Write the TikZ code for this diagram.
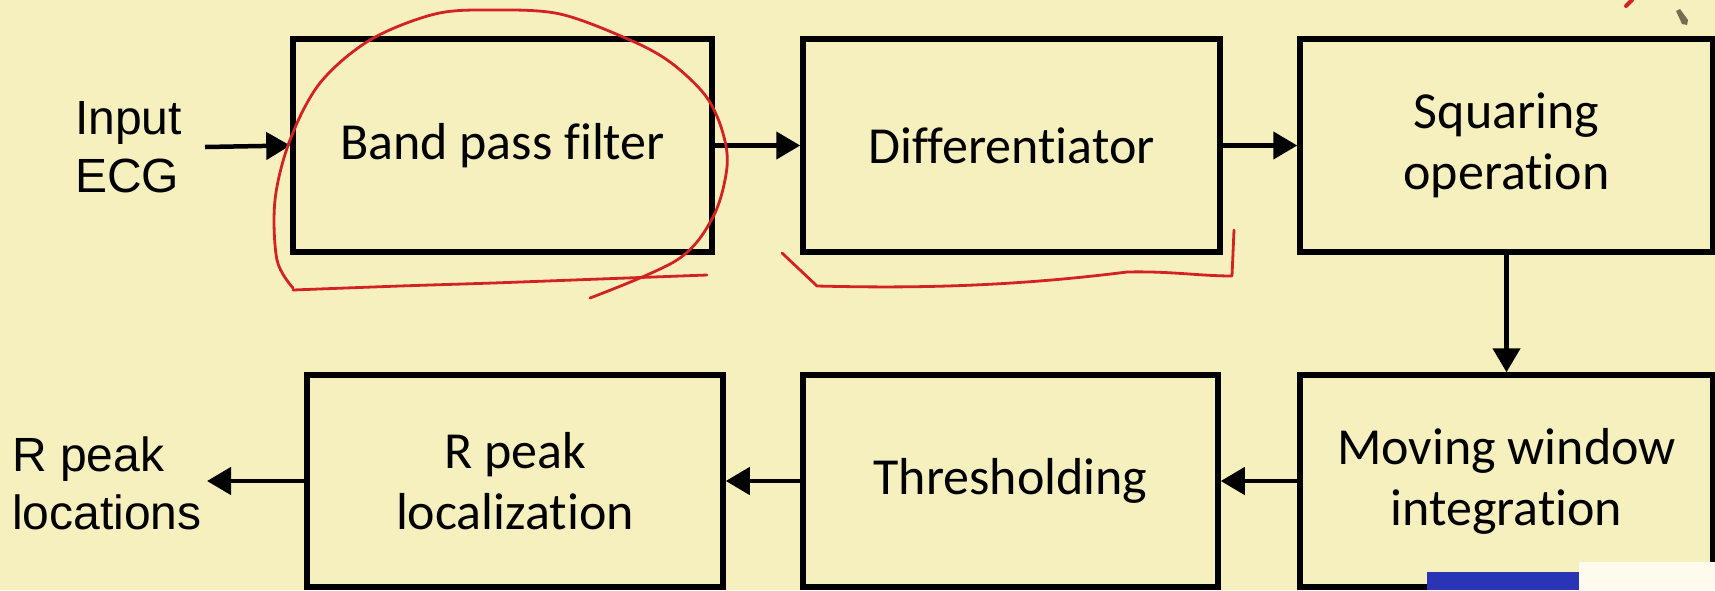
\documentclass[tikz,border=0pt]{standalone}
\usepackage{fontspec}
\setmainfont{Carlito}[Ligatures=CommonOff]
\newfontfamily\arialf{Liberation Sans}
\usetikzlibrary{arrows.meta}
\definecolor{bg}{HTML}{F5F0BE}
\definecolor{redink}{HTML}{D42222}
\definecolor{slideblue}{HTML}{2A35B5}
\definecolor{cream}{HTML}{FFF9EE}
\definecolor{cursor}{HTML}{7A6A50}
\begin{document}
\begin{tikzpicture}[x=1pt,y=-1pt,
  blk/.style={draw=black, line width=5.5pt, minimum height=213pt, align=center,
    font=\fontsize{52}{61}\selectfont, inner sep=0pt},
  conn/.style={line width=4.5pt, -{Triangle[length=24pt,width=27pt]}},
  lbl/.style={font=\arialf\fontsize{48}{58}\selectfont, align=left, inner sep=0pt},
  ink/.style={draw=redink, line width=2.8pt, line cap=round, line join=round}]
\fill[bg] (0,0) rectangle (1715,590);
\useasboundingbox (0,0) rectangle (1715,590);

% top row
\node[blk, minimum width=419pt] (bpf) at (502.5,145.5) {Band pass filter};
\node[blk, minimum width=417pt] (diff) at (1011.5,145.5) {Differentiator};
\node[blk, minimum width=413pt] (sq) at (1506.5,145.5) {\raisebox{0pt}[\height][\depth]{Squaring}\\operation};
% bottom row
\node[blk, minimum width=416pt, minimum height=212pt] (rpl) at (515,481) {R peak\\localization};
\node[blk, minimum width=415pt, minimum height=212pt] (thr) at (1010.5,481) {Thresholding};
\node[blk, minimum width=413pt, minimum height=212pt] (mwi) at (1506.5,481) {Moving window\\integration};

% labels
\node[lbl, anchor=west] (in) at (75,147) {Input\\ECG};
\node[lbl, anchor=west] (out) at (12,483) {R peak\\locations};
\coordinate (inS) at (205,147);
\coordinate (outE) at (207,481);

% connectors
\draw[conn] (inS) -- (bpf.west);
\draw[conn] (bpf) -- (diff);
\draw[conn] (diff) -- (sq);
\draw[conn] (sq) -- (mwi);
\draw[conn] (mwi) -- (thr);
\draw[conn] (thr) -- (rpl);
\draw[conn] (rpl.west) -- (outE);

% red hand annotations
\draw[ink] plot[smooth, tension=0.55] coordinates {(590,298) (677,260) (713,217) (727,167) (722,130) (705,95) (670,62) (630,40) (560,14) (493,10) (435,14) (370,40) (320,83) (290,140) (275,200) (277,260) (293,288)};
\draw[ink] plot[smooth, tension=0.5] coordinates {(293,290) (400,286) (493,283) (600,279) (707,275)};
\draw[ink] (782,253) -- (817,286) .. controls (900,288) and (1000,288) .. (1127,272) .. controls (1170,271) and (1200,276) .. (1232,276) -- (1234,230);
\draw[redink, line width=4pt, line cap=round] (1626,6) -- (1632,0);
\fill[cursor] (1676,11) -- (1680,9) -- (1688,20) -- (1687,25) -- (1682,24) -- cycle;

% overlays at bottom right
\fill[slideblue] (1427,572) rectangle (1580,590);
\fill[cream] (1579,562) rectangle (1715,590);
\end{tikzpicture}
\end{document}
